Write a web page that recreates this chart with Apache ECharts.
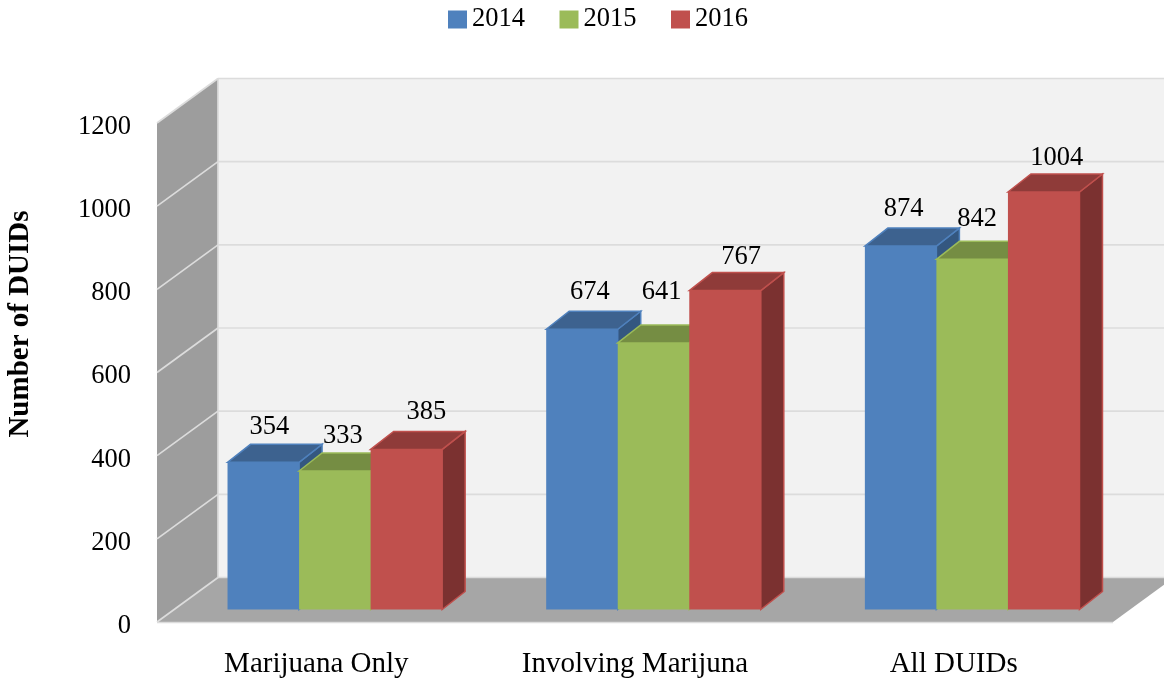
<!DOCTYPE html>
<html>
<head>
<meta charset="utf-8">
<script src="https://cdn.jsdelivr.net/npm/echarts@6/dist/echarts.min.js"></script>
<style>html,body{margin:0;padding:0;background:#fff}#c{width:1164px;height:679px}</style>
</head>
<body>
<div id="c"></div>
<script>
const categories = ['Marijuana Only', 'Involving Marijuna', 'All DUIDs'];
const years = ['2014', '2015', '2016'];
const values2014 = [354, 674, 874];
const values2015 = [333, 641, 842];
const values2016 = [385, 767, 1004];
const yTicks = [0, 200, 400, 600, 800, 1000, 1200];
const yAxisTitle = 'Number of DUIDs';

const FONT = '"Liberation Serif", serif';
const chart = echarts.init(document.getElementById('c'));

function wallItem(params, api) {
  const cs = params.coordSys, dx = 61, dy = -44.5;
  const v = api.value(0);
  const y = api.coord([0, v])[1];
  const l = cs.x, r = cs.x + cs.width, b = cs.y + cs.height, t = cs.y;
  const children = [];
  const line = (x1, y1, x2, y2) => ({
    type: 'line', shape: { x1, y1, x2, y2 },
    style: { stroke: '#dcdcdc', lineWidth: 1.7 }
  });
  if (v === 0) {
    children.push({ type: 'polygon', shape: { points: [[l + dx, t + dy], [r + dx, t + dy], [r + dx, b + dy], [l + dx, b + dy]] }, style: { fill: '#f2f2f2' } });
    children.push({ type: 'polygon', shape: { points: [[l, t], [l + dx, t + dy], [l + dx, b + dy], [l, b]] }, style: { fill: '#9d9d9d' } });
    children.push({ type: 'polygon', shape: { points: [[l, b], [l + dx, b + dy], [r + dx, b + dy], [r, b]] }, style: { fill: '#a6a6a6' } });
    children.push(line(l + dx, t + dy, l + dx, b + dy));
    children.push(line(l, b + 0.5, r, b + 0.5));
    children.push(line(l, b, l + dx, b + dy));
    children.push(line(l + dx, b + dy, r + dx, b + dy));
  } else {
    children.push(line(l, y, l + dx, y + dy));
    children.push(line(l + dx, y + dy, r + dx, y + dy));
  }
  return { type: 'group', children };
}

// small hand nudges for the data labels, as placed in the original
const labelNudge = [
  [[6, -35], [8, -35], [20, -37]],
  [[8, -37], [8, -51], [16, -34]],
  [[3, -37], [5, -40], [13, -34]]
];

function barRenderer(seriesIdx, front, top, side) {
  return function (params, api) {
    const cat = api.value(0), val = api.value(1);
    const w = api.size([1, 0])[0] * 0.2245;
    const dx = 23, dy = -18, lift = -12.5, shift = 18.5;
    const c0 = api.coord([cat, 0]);
    const c1 = api.coord([cat, val]);
    const x0 = c0[0] + shift + (seriesIdx - 1.5) * w;
    const x1 = x0 + w;
    const yb = c0[1] + lift, yt = c1[1] + lift;
    const n = labelNudge[cat][seriesIdx];
    return {
      type: 'group',
      children: [
        { type: 'polygon', shape: { points: [[x1, yt], [x1 + dx, yt + dy], [x1 + dx, yb + dy], [x1, yb]] },
          style: { fill: side, stroke: front, lineWidth: 1.5 } },
        { type: 'polygon', shape: { points: [[x0, yt], [x0 + dx, yt + dy], [x1 + dx, yt + dy], [x1, yt]] },
          style: { fill: top, stroke: front, lineWidth: 1.5 } },
        { type: 'rect', shape: { x: x0, y: yt, width: w, height: yb - yt },
          style: { fill: front } },
        { type: 'text', z2: 50,
          style: { x: x0 + w / 2 + n[0], y: yt + n[1], text: String(val), fill: '#000',
                   font: '26.5px ' + FONT, align: 'center', verticalAlign: 'middle' } }
      ]
    };
  };
}

const toData = arr => arr.map((v, i) => [i, v]);
const barStyles = [
  ['#4f81bd', '#3d628f', '#345780'],
  ['#9bbb59', '#758d43', '#6a8040'],
  ['#c0504d', '#8f3b39', '#7b3130']
];
const seriesValues = [values2014, values2015, values2016];

chart.setOption({
  animation: false,
  backgroundColor: '#fff',
  textStyle: { fontFamily: FONT },
  grid: { left: 157, right: 51, top: 123, bottom: 57, containLabel: false },
  legend: {
    data: years, left: 443, top: 1, icon: 'rect',
    itemWidth: 19, itemHeight: 18, itemGap: 34.5,
    textStyle: { fontFamily: FONT, fontSize: 26.5, color: '#000' }
  },
  xAxis: {
    type: 'category', data: categories,
    axisLine: { show: false }, axisTick: { show: false }, splitLine: { show: false },
    axisLabel: { fontFamily: FONT, fontSize: 29, color: '#000', margin: 28 }
  },
  yAxis: {
    type: 'value', min: 0, max: 1200, interval: 200,
    axisLine: { show: false }, axisTick: { show: false }, splitLine: { show: false },
    axisLabel: {
      color: '#000', margin: 26,
      formatter: v => '{a|' + v + '}',
      rich: { a: { fontFamily: FONT, fontSize: 26.5, color: '#000', padding: [8, 0, 0, 0] } }
    }
  },
  graphic: [{
    type: 'text', x: 21, y: 324, rotation: Math.PI / 2,
    style: { text: yAxisTitle, font: 'bold 29px ' + FONT, fill: '#000', align: 'center', verticalAlign: 'middle' }
  }],
  series: [
    { type: 'custom', name: 'walls', silent: true, data: yTicks.map(v => [v]), encode: { y: 0 }, renderItem: wallItem }
  ].concat(years.map((y, i) => ({
    type: 'custom', name: y, silent: true,
    itemStyle: { color: barStyles[i][0] },
    encode: { x: 0, y: 1 },
    data: toData(seriesValues[i]),
    renderItem: barRenderer(i, barStyles[i][0], barStyles[i][1], barStyles[i][2])
  })))
});
</script>
</body>
</html>
